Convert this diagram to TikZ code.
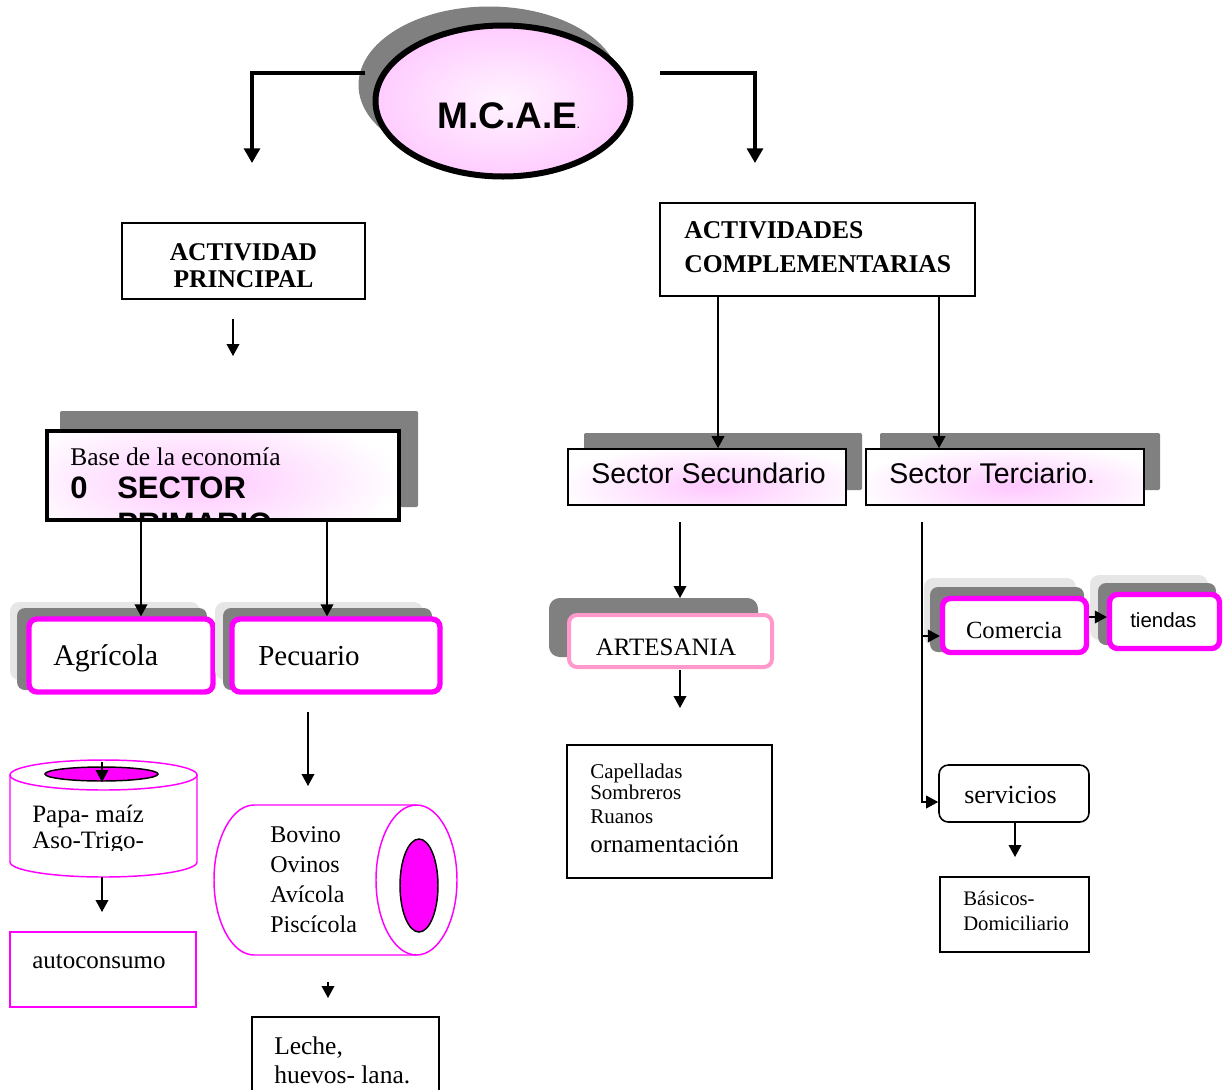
\documentclass[tikz,border=0pt]{standalone}
\usepackage{fontspec}
\setmainfont{Liberation Serif}
\setsansfont{Liberation Sans}
\usetikzlibrary{arrows.meta,shapes.geometric}
\definecolor{mag}{HTML}{FF00FF}
\definecolor{shgray}{HTML}{808080}
\definecolor{ltgray}{HTML}{E6E6E6}
\definecolor{artpink}{HTML}{FF99CC}
\definecolor{glow}{HTML}{FFC8FF}
\definecolor{elpink}{HTML}{FFCCFF}
\definecolor{elcenter}{HTML}{FFF4FF}
\newcommand\pxs[1]{\fontsize{\fpeval{0.75*#1}pt}{\fpeval{0.9*#1}pt}\selectfont}
\begin{document}
\begin{tikzpicture}[x=0.75pt,y=-0.75pt,
  wh/.style 2 args={minimum width={#1*0.75pt},minimum height={#2*0.75pt}},
  plainbox/.style={draw,line width=1.2pt,fill=white,inner sep=0pt},
  magthin/.style={draw=mag,line width=1.1pt,fill=white,inner sep=0pt},
  magthick/.style={draw=mag,line width=4pt,fill=white,rounded corners=6pt,inner sep=0pt},
  shdark/.style={fill=shgray,draw=none,rounded corners=6pt,inner sep=0pt},
  shsq/.style={fill=shgray,draw=none,rounded corners=1pt,inner sep=0pt},
  shlight/.style={fill=ltgray,draw=none,rounded corners=7pt,inner sep=0pt},
  arr/.style={line width=1.1pt,-{Triangle[length=9pt,width=9.5pt]}},
  bigarr/.style={line width=2.4pt,-{Triangle[length=11pt,width=12pt]}},
  lbl/.style={inner sep=0pt,anchor=base west},
  lblc/.style={inner sep=0pt,anchor=base},
  glowbase/.style={path picture={\shade[inner color=glow,outer color=white]
     ([xshift=-17pt,yshift=-5pt]path picture bounding box.center) ellipse[x radius=150pt,y radius=55pt];}},
  glowsec/.style={path picture={\shade[inner color=glow,outer color=white]
     ([xshift=6pt,yshift=-7pt]path picture bounding box.center) ellipse[x radius=120pt,y radius=32pt];}}
]
\useasboundingbox (0,0) rectangle (1224,1089);
\fill[white] (0,0) rectangle (1224,1089);

% ---------- top ellipse ----------
\node[ellipse,fill=shgray,wh={261}{157},inner sep=0pt] (shellip) at (489,85) {};
\node[ellipse,draw,line width=4.5pt,inner color=elcenter,outer color=elpink,wh={255}{151},inner sep=0pt] (mcae) at (503,101) {};
\node[lbl,font=\sffamily\bfseries\pxs{37}] (tmcae) at (437,128) {M.C.A.E{\pxs{9}.}};
\coordinate (la) at (365,73);
\coordinate (lb) at (252,163);
\coordinate (ra) at (660,73);
\coordinate (rb) at (755,163);
\draw[bigarr] (la) -| (lb);
\draw[bigarr] (ra) -| (rb);

% ---------- left branch ----------
\node[plainbox,wh={243}{76}] (ap) at (243.5,261) {};
\node[lblc,font=\bfseries\pxs{25.5}] (tap1) at (243.5,260) {ACTIVIDAD};
\node[lblc,font=\bfseries\pxs{25.5}] (tap2) at (243.5,287) {PRINCIPAL};
\coordinate (ap1) at (233,319);
\coordinate (ap2) at (233,356);
\draw[arr] (ap1) -- (ap2);

\node[shsq,wh={358}{96}] (bsh) at (239,459) {};
\node[draw,line width=3pt,fill=white,inner sep=0pt,wh={352}{89},glowbase] (base) at (223,475.5) {};
\node[lbl,font=\pxs{25.5}] (tbase) at (70,465) {Base de la economía};
\node[lbl,font=\sffamily\bfseries\pxs{31}] (tzero) at (70,498) {0};
\node[lbl,font=\sffamily\bfseries\pxs{31}] (tsector) at (117,498) {SECTOR};
\begin{scope}
\clip (49,433) rectangle (397,517);
\node[lbl,font=\sffamily\bfseries\pxs{31}] (tprim) at (117,534) {PRIMARIO};
\end{scope}

% Agricola / Pecuario
\node[shlight,wh={190}{78}] (agrlt) at (105,641) {};
\node[shdark,wh={190}{82}] (agrdk) at (112,649) {};
\node[magthick,wh={184}{73}] (agr) at (121,655.5) {};
\node[lbl,font=\pxs{30}] (tagr) at (53,665) {Agrícola};
\node[shlight,wh={208}{78}] (peclt) at (319,641) {};
\node[shdark,wh={209}{82}] (pecdk) at (327.5,649) {};
\node[magthick,wh={208}{73}] (pec) at (336,655.5) {};
\node[lbl,font=\pxs{29}] (tpec) at (258,665) {Pecuario};
\coordinate (bx1) at (141,0);
\coordinate (bx2) at (327,0);
\draw[arr] (base.south -| bx1) -- (agr.north -| bx1);
\draw[arr] (base.south -| bx2) -- (pec.north -| bx2);

% left cylinder
\draw[draw=mag,line width=1.1pt,fill=white] (10,775) -- (10,862)
   arc[start angle=180,end angle=360,x radius=70.125pt,y radius=11.25pt] -- (197,775);
\node[ellipse,draw=mag,line width=1.1pt,fill=white,inner sep=0pt,wh={187}{30}] (cyltop) at (103.5,775) {};
\node[ellipse,draw,line width=1.1pt,fill=mag,inner sep=0pt,wh={113}{14}] (cylhole) at (101.5,774) {};
\coordinate (c1) at (102,762);
\coordinate (c2) at (102,782);
\draw[arr] (c1) -- (c2);
\node[lbl,font=\pxs{25}] (tpapa) at (32,822) {Papa- maíz};
\begin{scope}
\clip (12,800) rectangle (195,850.5);
\node[lbl,font=\pxs{25}] (taso) at (32,848) {Aso-Trigo-};
\end{scope}
\coordinate (c3) at (102,877);
\coordinate (c4) at (102,912);
\draw[arr] (c3) -- (c4);
\node[magthin,wh={186}{75}] (auto) at (103,969.5) {};
\node[lbl,font=\pxs{25}] (tauto) at (32,968) {autoconsumo};

% right cylinder (Pecuario)
\coordinate (p1) at (308,712);
\coordinate (p2) at (308,786);
\draw[arr] (p1) -- (p2);
\draw[draw=mag,line width=1.1pt,fill=white] (416.5,805) -- (254,805)
   arc[start angle=90,end angle=270,x radius=30pt,y radius=56.25pt] -- (416.5,955);
\node[ellipse,draw=mag,line width=1.1pt,fill=white,inner sep=0pt,wh={81}{150}] (cylend) at (416.5,880) {};
\node[ellipse,draw,line width=1.1pt,fill=mag,inner sep=0pt,wh={38}{93}] (cylhole2) at (419,885.5) {};
\node[lbl,font=\pxs{24}] (tbov) at (270,842) {Bovino};
\node[lbl,font=\pxs{24}] (tovi) at (270,872) {Ovinos};
\node[lbl,font=\pxs{24}] (tavi) at (270,902) {Avícola};
\node[lbl,font=\pxs{24}] (tpis) at (270,932) {Piscícola};
\coordinate (p3) at (328,982);
\coordinate (p4) at (328,998);
\draw[arr] (p3) -- (p4);
\node[plainbox,wh={187}{83}] (leche) at (345.5,1058.5) {};
\node[lbl,font=\pxs{25.5}] (tleche1) at (274,1054) {Leche,};
\node[lbl,font=\pxs{25.5}] (tleche2) at (274,1083) {huevos- lana.};

% ---------- right branch ----------
\node[plainbox,wh={315}{93}] (ac) at (817.5,249.5) {};
\node[lbl,font=\bfseries\pxs{25.6}] (tac1) at (684,238) {ACTIVIDADES};
\node[lbl,font=\bfseries\pxs{25.6}] (tac2) at (684,272) {COMPLEMENTARIAS};

\node[shsq,wh={278}{57}] (secsh) at (723,461.5) {};
\node[shsq,wh={280}{57}] (tersh) at (1020,461.5) {};
\node[plainbox,wh={278}{56},glowsec] (sec) at (707,477) {};
\node[plainbox,wh={278}{56},glowsec] (ter) at (1005,477) {};
\node[lbl,font=\sffamily\pxs{28.5}] (tsec) at (591,483) {Sector Secundario};
\node[lbl,font=\sffamily\pxs{28.5}] (tter) at (889,483) {Sector Terciario.};
\coordinate (ax1) at (718,0);
\coordinate (ax2) at (939,0);
\draw[arr] (ac.south -| ax1) -- (sec.north -| ax1);
\draw[arr] (ac.south -| ax2) -- (ter.north -| ax2);

% Artesania
\coordinate (s1) at (680,522);
\coordinate (s2) at (680,598);
\draw[arr] (s1) -- (s2);
\node[shdark,rounded corners=8pt,wh={209}{59}] (artsh) at (653.5,627.5) {};
\node[draw=artpink,line width=3pt,fill=white,rounded corners=6pt,inner sep=0pt,wh={203}{52}] (art) at (670.5,641) {};
\node[lblc,font=\pxs{25}] (tart) at (666,655) {ARTESANIA};
\coordinate (s3) at (680,670);
\coordinate (s4) at (680,708);
\draw[arr] (s3) -- (s4);
\node[plainbox,wh={205}{133}] (cap) at (669.5,811.5) {};
\node[lbl,font=\pxs{21}] (tcap1) at (590,778) {Capelladas};
\node[lbl,font=\pxs{21}] (tcap2) at (590,799) {Sombreros};
\node[lbl,font=\pxs{21}] (tcap3) at (590,823) {Ruanos};
\node[lbl,font=\pxs{25}] (tcap4) at (590,852) {ornamentación};

% Terciario children
\node[shlight,wh={152}{67}] (comlt) at (1000,611.5) {};
\node[shdark,wh={154}{65}] (comdk) at (1007,619.5) {};
\node[magthick,wh={144}{54}] (com) at (1014.5,625.5) {};
\node[lblc,font=\pxs{24.7}] (tcom) at (1014,638) {Comercia};
\node[shlight,wh={118}{65}] (tielt) at (1149,607.5) {};
\node[shdark,wh={118}{62}] (tiedk) at (1157,614) {};
\node[magthick,wh={110}{54}] (tie) at (1164.5,621.5) {};
\node[lbl,font=\sffamily\pxs{20.5}] (ttie) at (1130,627) {tiendas};
\coordinate (y617) at (0,617);
\draw[arr] (com.east |- y617) -- (tie.west |- y617);

\node[draw,line width=1.2pt,fill=white,rounded corners=7pt,inner sep=0pt,wh={150}{57}] (serv) at (1014,793.5) {};
\node[lbl,font=\pxs{26}] (tserv) at (964,803) {servicios};
\coordinate (t1) at (922,522);
\coordinate (t2) at (0,802);
\coordinate (t3) at (922,636);
\draw[arr] (t1) |- (serv.west |- t2);
\draw[arr] (t3) -- (com.west |- t3);
\coordinate (v1) at (1015,0);
\coordinate (v2) at (1015,857);
\draw[arr] (serv.south -| v1) -- (v2);
\node[plainbox,wh={149}{75}] (bas) at (1014.5,914.5) {};
\node[lbl,font=\pxs{20.7}] (tbas1) at (963,905) {Básicos-};
\node[lbl,font=\pxs{20.7}] (tbas2) at (963,930) {Domiciliario};
\end{tikzpicture}
\end{document}
